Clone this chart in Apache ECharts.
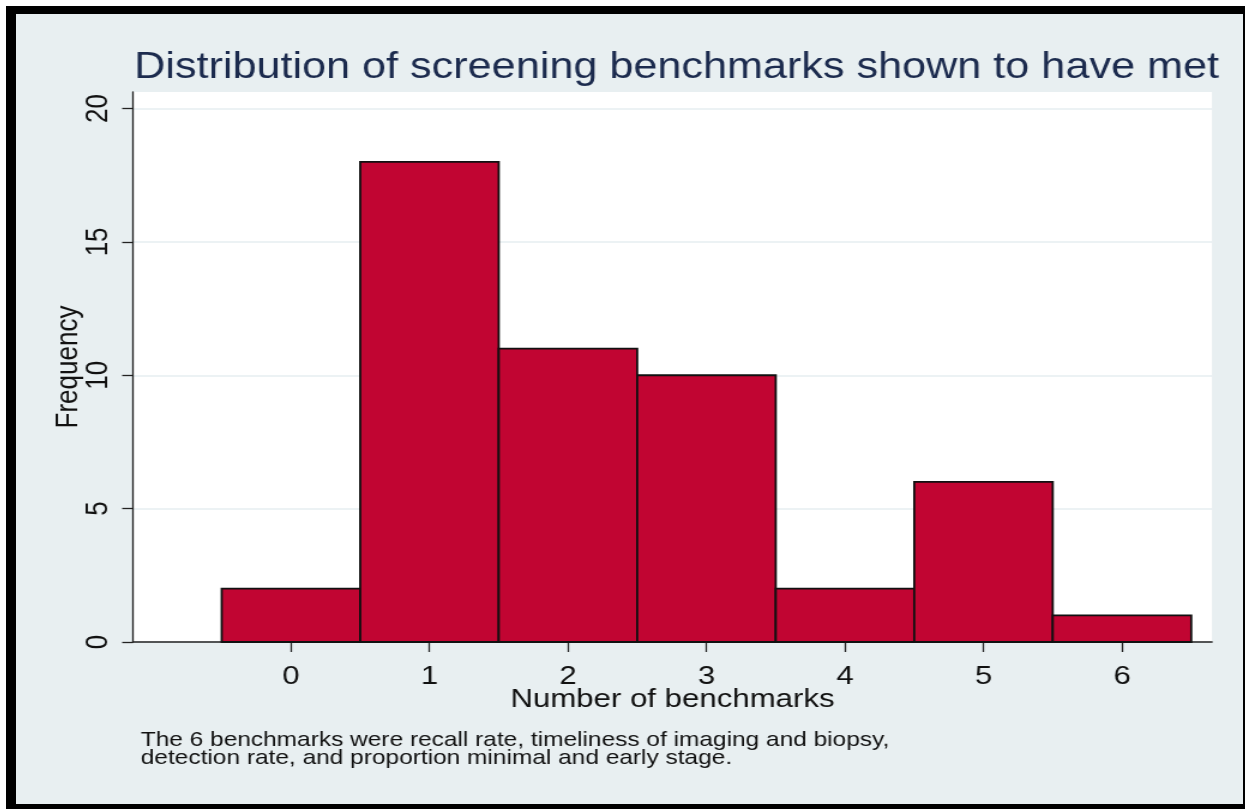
<!DOCTYPE html>
<html><head><meta charset="utf-8">
<script src="https://cdn.jsdelivr.net/npm/echarts@6/dist/echarts.min.js"></script>
<style>
html,body{margin:0;padding:0;background:#fff;width:1245px;height:809px;overflow:hidden}
#frame{position:absolute;left:6px;top:6px;width:1239px;height:803px;background:#000}
#wrap{position:absolute;left:10px;top:8px;width:1227px;height:790px;background:#e8eff1;overflow:hidden}
#chart{position:absolute;left:0;top:0;width:1023px;height:790px;transform:scaleX(1.199413);transform-origin:0 0}
</style></head><body>
<div id="frame"><div id="wrap"><div id="chart"></div></div></div>
<script>
const categories = [0, 1, 2, 3, 4, 5, 6];
const frequencies = [2, 18, 11, 10, 2, 6, 1];
const xTicks = [0, 1, 2, 3, 4, 5, 6];
const yTicks = [0, 5, 10, 15, 20];
const titleText = 'Distribution of screening benchmarks shown to have met';
const noteText = 'The 6 benchmarks were recall rate, timeliness of imaging and biopsy,\ndetection rate, and proportion minimal and early stage.';
const xName = 'Number of benchmarks';
const yName = 'Frequency';

const FONT = '"Liberation Sans", Arial, Helvetica, sans-serif';
const chart = echarts.init(document.getElementById('chart'), null, {renderer: 'canvas'});
const binHalf = 0.5;

chart.setOption({
  backgroundColor: '#e8eff1',
  animation: false,
  textStyle: {fontFamily: FONT},
  title: [
    {text: titleText, left: 93.5, top: 31,
     textStyle: {fontSize: 36, fontWeight: 'normal', color: '#1c2b4e', fontFamily: FONT}},
    {text: noteText, left: 99, top: 712,
     textStyle: {fontSize: 20.4, fontWeight: 'normal', color: '#111', lineHeight: 18, fontFamily: FONT}}
  ],
  grid: {left: 97.5, right: 25.85, top: 78, bottom: 162, show: true, backgroundColor: '#ffffff', borderWidth: 0},
  xAxis: {
    type: 'value', min: -1.1408, max: 6.6498,
    axisLine: {show: true, onZero: false, lineStyle: {color: '#222', width: 1.5}},
    axisTick: {show: true, length: 10, customValues: xTicks, lineStyle: {color: '#222', width: 1.3}},
    axisLabel: {customValues: xTicks, fontSize: 26, color: '#111', margin: 22, fontFamily: FONT},
    splitLine: {show: false},
    name: xName, nameLocation: 'middle', nameGap: 45, nameMoveOverlap: false,
    nameTextStyle: {fontSize: 26, color: '#111', fontFamily: FONT}
  },
  yAxis: {
    type: 'value', min: 0, max: 20.62,
    axisLine: {show: true, onZero: false, lineStyle: {color: '#222', width: 1.3}},
    axisTick: {show: true, length: 9, customValues: yTicks, lineStyle: {color: '#222', width: 1.3}},
    axisLabel: {customValues: yTicks, rotate: 90, fontSize: 26, color: '#111', margin: 16, fontFamily: FONT},
    splitLine: {show: true, lineStyle: {color: '#e6eef0', width: 1.5}},
    name: yName, nameLocation: 'middle', nameRotate: 90, nameGap: 41, nameMoveOverlap: false,
    nameTextStyle: {fontSize: 26, color: '#111', fontFamily: FONT}
  },
  series: [{
    type: 'custom',
    data: categories.map((c, i) => [c, frequencies[i]]),
    renderItem: function (params, api) {
      const x = api.value(0), y = api.value(1);
      const p0 = api.coord([x - binHalf, y]);
      const p1 = api.coord([x + binHalf, 0]);
      return {
        type: 'rect',
        shape: {x: p0[0], y: p0[1], width: p1[0] - p0[0], height: p1[1] - p0[1]},
        style: {fill: '#c10532', stroke: '#111', lineWidth: 1.8}
      };
    }
  }]
});
</script>
</body></html>
